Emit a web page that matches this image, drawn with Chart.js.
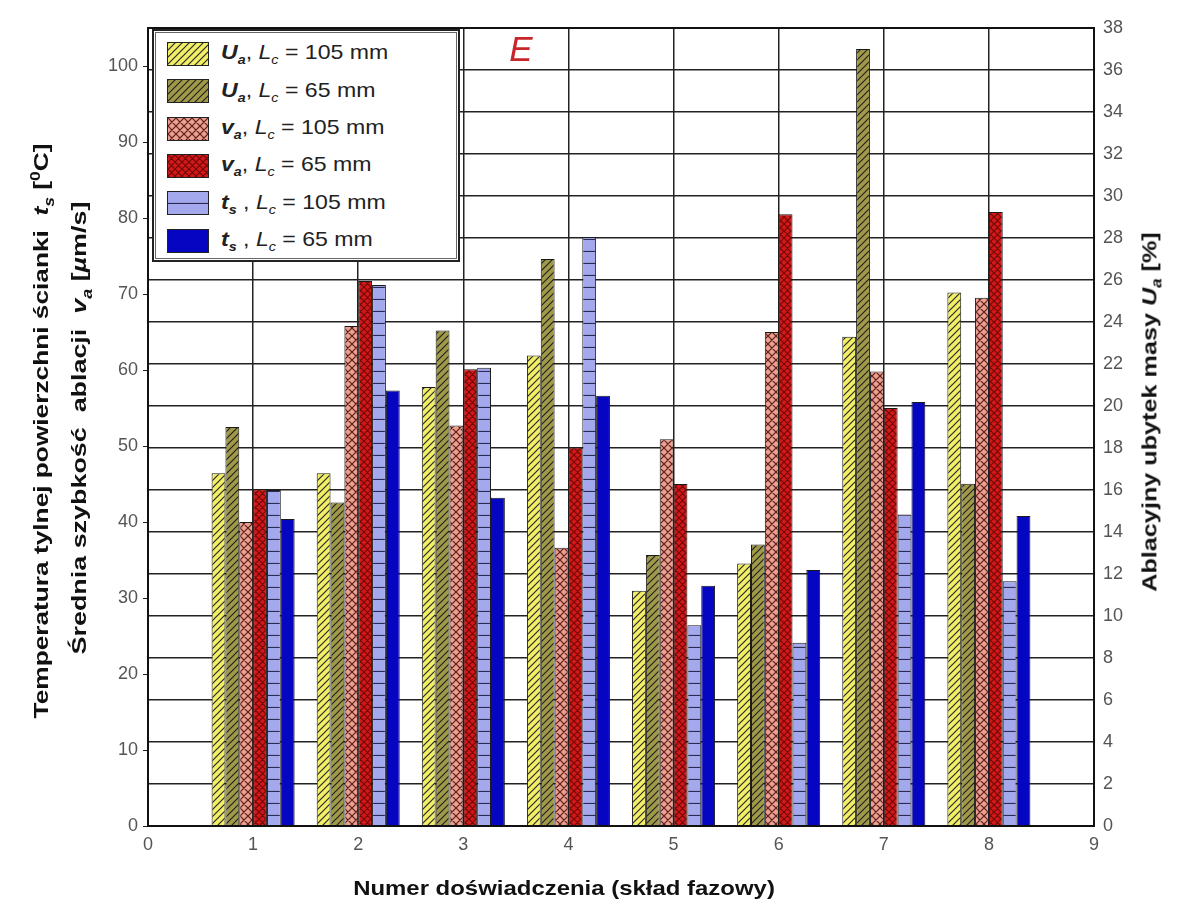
<!DOCTYPE html>
<html lang="pl">
<head>
  <meta charset="UTF-8">
  <title>Seria E - ablacja</title>
  <script src="https://cdn.jsdelivr.net/npm/chart.js@4.4.1/dist/chart.umd.min.js"></script>
  <style>
    html, body { margin: 0; padding: 0; background: #fff; }
    #wrap {
      position: relative;
      width: 1190px;
      height: 907px;
      font-family: "Liberation Sans", Arial, sans-serif;
      color: #111;
    }
    #chart { position: absolute; left: 0; top: 0; }
    .title {
      position: absolute;
      white-space: nowrap;
      font-weight: bold;
      font-size: 21px;
    }
    .title sub, .title sup { font-size: 14px; }
    #legend {
      position: absolute;
      left: 152px;
      top: 29px;
      width: 304px;
      height: 229px;
      background: #fff;
      border: 2px solid #222;
      box-shadow: inset 0 0 0 1px #fff, inset 0 0 0 2px #666;
    }
    .row {
      position: absolute;
      left: 13px;
      height: 24px;
      display: flex;
      align-items: center;
      font-size: 21px;
      color: #222;
      white-space: nowrap;
    }
    .row span { display: inline-block; transform: scaleX(1.1); transform-origin: left center; }
    .sw {
      width: 40px;
      height: 22px;
      border: 1.5px solid #222;
      margin-right: 12px;
    }
    .row sub { font-size: 13px; }
    #mark {
      position: absolute;
      left: 521px;
      top: 49px;
      transform: translate(-50%, -50%);
      font-size: 35px;
      font-style: italic;
      color: #c8262a;
    }
  </style>
</head>
<body>
  <div id="wrap">
    <canvas id="chart" width="1190" height="907"></canvas>

    <!-- axis titles -->
    <div class="title" style="left:42px; top:431px; transform:translate(-50%,-50%) rotate(-90deg) scaleX(1.25);">Temperatura tylnej powierzchni ścianki&nbsp; <i>t<sub>s</sub></i> [<sup>0</sup>C]</div>
    <div class="title" style="left:81px; top:428px; transform:translate(-50%,-50%) rotate(-90deg) scaleX(1.28);">Średnia szybkość&nbsp; ablacji&nbsp; <i>v<sub>a</sub></i> [<i>µ</i>m/s]</div>
    <div class="title" style="left:1151px; top:412px; transform:translate(-50%,-50%) rotate(-90deg) scaleX(1.2);">Ablacyjny ubytek masy <i>U<sub>a</sub></i> [%]</div>
    <div class="title" style="left:564px; top:888px; transform:translate(-50%,-50%) scaleX(1.14);">Numer doświadczenia (skład fazowy)</div>

    <div id="mark">E</div>
    <div id="legend"></div>
  </div>

  <script>
    // experiment numbers (0 and 9 are empty, they only frame the axis)
    var categories = ['0', '1', '2', '3', '4', '5', '6', '7', '8', '9'];

    // ablation mass loss Ua [%]  (right axis)
    var ua105 = [null, 16.8, 16.8, 20.9, 22.4, 11.2, 12.5, 23.3, 25.4, null];
    var ua65  = [null, 19.0, 15.4, 23.6, 27.0, 12.9, 13.4, 37.0, 16.3, null];
    // mean ablation rate va [um/s]  (left axis)
    var va105 = [null, 40.0, 65.8, 52.7, 36.6, 50.9, 65.0, 59.8, 69.5, null];
    var va65  = [null, 44.3, 71.7, 60.1, 49.8, 45.0, 80.5, 55.0, 80.8, null];
    // back wall temperature ts [C]  (left axis)
    var ts105 = [null, 44.2, 71.2, 60.3, 77.5, 26.4, 24.1, 41.0, 32.2, null];
    var ts65  = [null, 40.4, 57.3, 43.2, 56.6, 31.6, 33.7, 55.8, 40.8, null];

    var seriesSymbols = ['U', 'U', 'v', 'v', 't', 't'];
    var seriesSubs = ['a', 'a', 'a', 'a', 's', 's'];
    var seriesLc = [105, 65, 105, 65, 105, 65];

    var leftTicks = { min: 0, max: 105, step: 10 };
    var rightTicks = { min: 0, max: 38, step: 2 };

    // hatch patterns like the old spreadsheet fills
    function makePattern(bg, fg, kind, size) {
      var c = document.createElement('canvas');
      c.width = size;
      c.height = size;
      var g = c.getContext('2d');
      g.fillStyle = bg;
      g.fillRect(0, 0, size, size);
      g.strokeStyle = fg;
      g.lineWidth = 1.2;
      g.beginPath();
      if (kind === 'diag' || kind === 'cross') {
        g.moveTo(-1, size + 1); g.lineTo(size + 1, -1);
        g.moveTo(-1, 1); g.lineTo(1, -1);
        g.moveTo(size - 1, size + 1); g.lineTo(size + 1, size - 1);
      }
      if (kind === 'cross') {
        g.moveTo(-1, -1); g.lineTo(size + 1, size + 1);
        g.moveTo(size - 1, -1); g.lineTo(size + 1, 1);
        g.moveTo(-1, size - 1); g.lineTo(1, size + 1);
      }
      if (kind === 'horiz') {
        g.moveTo(0, size - 0.5); g.lineTo(size, size - 0.5);
      }
      g.stroke();
      return c;
    }

    var tiles = [
      makePattern('#f2ee66', '#2a2a2a', 'diag', 7),
      makePattern('#a09a48', '#222', 'diag', 7),
      makePattern('#eb9f90', '#5a1d18', 'cross', 8),
      makePattern('#d41818', '#700a0a', 'cross', 7),
      makePattern('#a4a9ee', '#2a2a55', 'horiz', 12),
      makePattern('#0505c2', '#0505c2', 'solid', 4)
    ];

    var ctx = document.getElementById('chart').getContext('2d');
    var fills = tiles.map(function (t) { return ctx.createPattern(t, 'repeat'); });
    var seriesData = [ua105, ua65, va105, va65, ts105, ts65];
    var axisFor = ['y2', 'y2', 'y', 'y', 'y', 'y'];

    var datasets = seriesData.map(function (d, i) {
      return {
        label: seriesSymbols[i] + seriesSubs[i] + ', Lc = ' + seriesLc[i] + ' mm',
        data: d,
        yAxisID: axisFor[i],
        backgroundColor: fills[i],
        borderColor: '#1a1a1a',
        borderWidth: 1,
        categoryPercentage: 0.79,
        barPercentage: 1.0
      };
    });

    // frame round the plot area
    var frame = {
      id: 'frame',
      afterDraw: function (chart) {
        var a = chart.chartArea, g = chart.ctx;
        g.save();
        g.strokeStyle = '#111';
        g.lineWidth = 2;
        g.strokeRect(a.left, a.top, a.right - a.left, a.bottom - a.top);
        g.restore();
      }
    };

    var tickFont = { family: '"Liberation Sans", Arial, sans-serif', size: 18 };

    new Chart(ctx, {
      type: 'bar',
      data: { labels: categories, datasets: datasets },
      options: {
        responsive: false,
        animation: false,
        layout: { padding: { top: 28, left: 0, right: 0, bottom: 0 } },
        plugins: {
          legend: { display: false },
          tooltip: { enabled: false }
        },
        scales: {
          x: {
            offset: false,
            grid: { offset: false, color: '#222', lineWidth: 1.5, tickLength: 0 },
            border: { color: '#111', width: 2 },
            ticks: { color: '#555', font: tickFont, padding: 8, maxRotation: 0, autoSkip: false },
            afterFit: function (s) { s.height = 81; }
          },
          y: {
            position: 'left',
            min: leftTicks.min,
            max: leftTicks.max,
            grid: { drawOnChartArea: false, color: '#222', tickLength: 5 },
            border: { color: '#111', width: 2 },
            ticks: { stepSize: leftTicks.step, includeBounds: false, color: '#555', font: tickFont, padding: 5 },
            afterFit: function (s) { s.width = 148; }
          },
          y2: {
            position: 'right',
            min: rightTicks.min,
            max: rightTicks.max,
            grid: { drawOnChartArea: true, color: '#222', lineWidth: 1.5, tickLength: 0 },
            border: { color: '#111', width: 2 },
            ticks: { stepSize: rightTicks.step, color: '#555', font: tickFont, padding: 9 },
            afterFit: function (s) { s.width = 96; }
          }
        }
      },
      plugins: [frame]
    });

    // legend with sub-scripts, swatches use the same hatch tiles
    var legend = document.getElementById('legend');
    for (var i = 0; i < 6; i++) {
      var row = document.createElement('div');
      row.className = 'row';
      row.style.top = (11 + i * 37.3) + 'px';
      var sw = document.createElement('div');
      sw.className = 'sw';
      sw.style.backgroundImage = 'url(' + tiles[i].toDataURL() + ')';
      row.appendChild(sw);
      var txt = document.createElement('span');
      txt.innerHTML = '<b><i>' + seriesSymbols[i] + '<sub>' + seriesSubs[i] + '</sub></i></b>' +
        (i >= 4 ? ' ' : '') + ', <i>L<sub>c</sub></i> = ' + seriesLc[i] + ' mm';
      row.appendChild(txt);
      legend.appendChild(row);
    }
  </script>
</body>
</html>
